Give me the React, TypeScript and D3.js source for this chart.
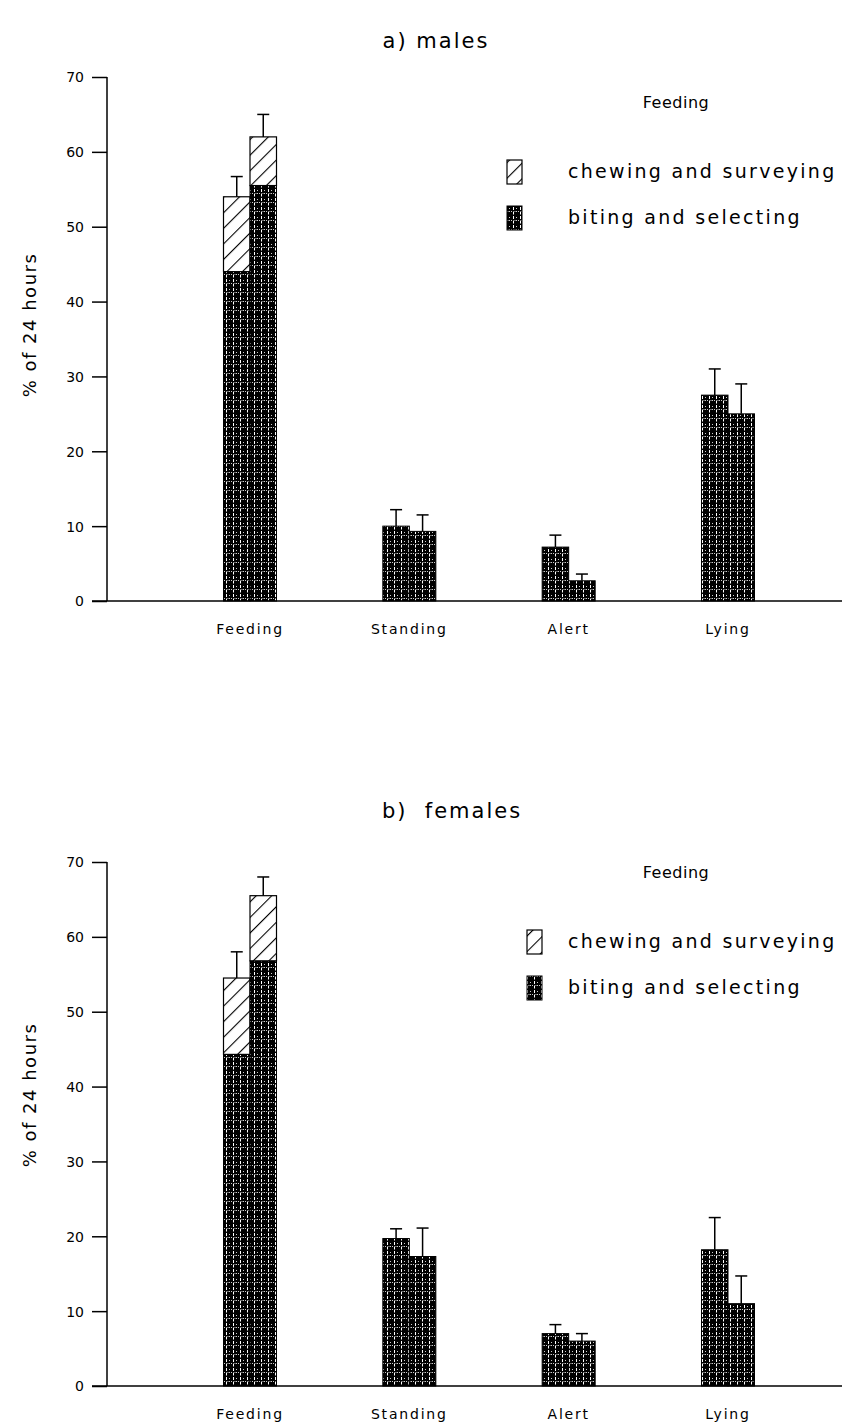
import React, { useRef, useEffect } from 'react';
import * as d3 from 'd3';

// behaviour categories
const categories = ['Feeding', 'Standing', 'Alert', 'Lying'];
const yTicks = [0, 10, 20, 30, 40, 50, 60, 70];

// males: two bars per category (total, error top); feeding split into biting part
const malesTotal = [
  [54, 62],
  [10, 9.3],
  [7.2, 2.7],
  [27.5, 25],
];
const malesError = [
  [56.7, 65],
  [12.2, 11.5],
  [8.8, 3.6],
  [31, 29],
];
const malesBiting = [44, 55.5];

// females
const femalesTotal = [
  [54.5, 65.5],
  [19.7, 17.3],
  [7, 6],
  [18.2, 11],
];
const femalesError = [
  [58, 68],
  [21, 21.1],
  [8.2, 7],
  [22.5, 14.7],
];
const femalesBiting = [44.3, 56.8];

const FONT = "'DejaVu Sans', sans-serif";

function App() {
  const ref = useRef(null);

  useEffect(() => {
    const svg = d3.select(ref.current);
    svg.selectAll('*').remove();

    const defs = svg.append('defs');
    // dense dark fill with white speckle lines
    const dark = defs
      .append('pattern')
      .attr('id', 'dark')
      .attr('patternUnits', 'userSpaceOnUse')
      .attr('width', 7)
      .attr('height', 9);
    dark.append('rect').attr('width', 7).attr('height', 9).attr('fill', '#000');
    dark
      .append('line')
      .attr('x1', 2.5).attr('y1', 0).attr('x2', 2.5).attr('y2', 9)
      .attr('stroke', '#fff').attr('stroke-width', 1)
      .attr('stroke-dasharray', '3 1.5');
    dark
      .append('line')
      .attr('x1', 5.5).attr('y1', 1).attr('x2', 5.5).attr('y2', 7)
      .attr('stroke', '#fff').attr('stroke-width', 0.8)
      .attr('stroke-dasharray', '1 2');
    dark
      .append('line')
      .attr('x1', 0).attr('y1', 4.5).attr('x2', 7).attr('y2', 4.5)
      .attr('stroke', '#fff').attr('stroke-width', 0.8)
      .attr('stroke-dasharray', '1 2.5');

    const hatch = defs
      .append('pattern')
      .attr('id', 'hatch')
      .attr('patternUnits', 'userSpaceOnUse')
      .attr('width', 11)
      .attr('height', 11)
      .attr('patternTransform', 'rotate(45)');
    hatch.append('rect').attr('width', 11).attr('height', 11).attr('fill', '#fff');
    hatch
      .append('line')
      .attr('x1', 0).attr('y1', 0).attr('x2', 0).attr('y2', 11)
      .attr('stroke', '#000').attr('stroke-width', 2.2);

    const xScale = d3.scalePoint().domain(categories).range([250, 728]);
    const sub = d3.scaleBand().domain(['0', '1']).range([-26.5, 26.5]).paddingInner(0);

    const panels = [
      { title: 'a) males', total: malesTotal, err: malesError, biting: malesBiting, top: 77, bottom: 601, titleY: 48,
        titleX: 436, labelY: 325, legendY: 108, boxX: 507 },
      { title: 'b)  females', total: femalesTotal, err: femalesError, biting: femalesBiting, top: 862, bottom: 1386,
        titleY: 818, titleX: 452, labelY: 1095, legendY: 878, boxX: 527 },
    ];

    panels.forEach((p) => {
      const g = svg.append('g');
      const yScale = d3.scaleLinear().domain([0, 70]).range([p.bottom, p.top]);

      g.append('text')
        .attr('x', p.titleX)
        .attr('y', p.titleY)
        .attr('text-anchor', 'middle')
        .attr('font-family', FONT)
        .attr('font-size', 21)
        .attr('letter-spacing', 2)
        .attr('xml:space', 'preserve')
        .style('white-space', 'pre')
        .text(p.title);

      // bars
      categories.forEach((c, i) => {
        [0, 1].forEach((j) => {
          const x0 = xScale(c) + sub(String(j));
          const w = sub.bandwidth();
          const total = p.total[i][j];
          const base = i === 0 ? p.biting[j] : total;
          g.append('rect')
            .attr('x', x0)
            .attr('y', yScale(base))
            .attr('width', w)
            .attr('height', yScale(0) - yScale(base))
            .attr('fill', 'url(#dark)')
            .attr('stroke', '#000')
            .attr('stroke-width', 1);
          if (i === 0) {
            g.append('rect')
              .attr('x', x0)
              .attr('y', yScale(total))
              .attr('width', w)
              .attr('height', yScale(base) - yScale(total))
              .attr('fill', 'url(#hatch)')
              .attr('stroke', '#000')
              .attr('stroke-width', 1.2);
          }
          const cx = x0 + w / 2;
          g.append('line')
            .attr('x1', cx).attr('x2', cx)
            .attr('y1', yScale(total)).attr('y2', yScale(p.err[i][j]))
            .attr('stroke', '#000').attr('stroke-width', 1.5);
          g.append('line')
            .attr('x1', cx - 6).attr('x2', cx + 6)
            .attr('y1', yScale(p.err[i][j])).attr('y2', yScale(p.err[i][j]))
            .attr('stroke', '#000').attr('stroke-width', 1.5);
        });
      });

      // axes
      const yAxis = d3.axisLeft(yScale).tickValues(yTicks).tickSize(15).tickPadding(8);
      const ya = g.append('g').attr('transform', 'translate(107,0)').call(yAxis);
      ya.select('.domain').attr('stroke-width', 1.5).attr('d', `M0,${p.top}V${p.bottom}`);
      ya.selectAll('line').attr('stroke-width', 1.5);
      ya.selectAll('text').attr('font-family', FONT).attr('font-size', 14).attr('dy', '0.35em');

      g.append('line')
        .attr('x1', 92).attr('x2', 850)
        .attr('y1', yScale(0)).attr('y2', yScale(0))
        .attr('stroke', '#000').attr('stroke-width', 1.5);

      categories.forEach((c) => {
        g.append('text')
          .attr('x', xScale(c))
          .attr('y', p.bottom + 33)
          .attr('text-anchor', 'middle')
          .attr('font-family', FONT)
          .attr('font-size', 14)
          .attr('letter-spacing', 1.8)
          .text(c);
      });

      g.append('text')
        .attr('transform', `translate(36,${p.labelY}) rotate(-90)`)
        .attr('text-anchor', 'middle')
        .attr('font-family', FONT)
        .attr('font-size', 18)
        .attr('letter-spacing', 1.5)
        .text('% of 24 hours');

      // legend
      g.append('text')
        .attr('x', 676).attr('y', p.legendY)
        .attr('text-anchor', 'middle')
        .attr('font-family', FONT).attr('font-size', 16)
        .attr('letter-spacing', 0.5)
        .text('Feeding');
      g.append('rect')
        .attr('x', p.boxX).attr('y', p.legendY + 52)
        .attr('width', 15).attr('height', 24)
        .attr('fill', 'url(#hatch)').attr('stroke', '#000').attr('stroke-width', 1.2);
      g.append('rect')
        .attr('x', p.boxX).attr('y', p.legendY + 98)
        .attr('width', 15).attr('height', 24)
        .attr('fill', 'url(#dark)').attr('stroke', '#000').attr('stroke-width', 1);
      g.append('text')
        .attr('x', 568).attr('y', p.legendY + 70)
        .attr('font-family', FONT).attr('font-size', 19)
        .attr('letter-spacing', 2.3)
        .text('chewing and surveying');
      g.append('text')
        .attr('x', 568).attr('y', p.legendY + 116)
        .attr('font-family', FONT).attr('font-size', 19)
        .attr('letter-spacing', 2.3)
        .text('biting and selecting');
    });
  }, []);

  return <svg ref={ref} width={850} height={1426} style={{ display: 'block', margin: '-8px 0 0 -8px' }}></svg>;
}

export default App;
